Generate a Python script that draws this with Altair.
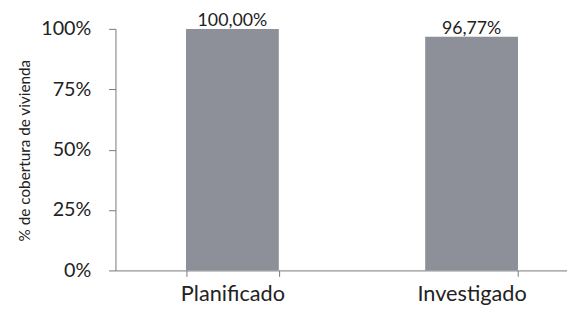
import altair as alt
import pandas as pd

categories = ["Planificado", "Investigado"]
values = [1.0, 0.9677]
labels = ["100,00%", "96,77%"]

df = pd.DataFrame({"cat": categories, "val": values, "lab": labels})

FONT = "Lato"

x = alt.X("cat:N", sort=categories, title=None,
          scale=alt.Scale(paddingInner=0.612, paddingOuter=0.25, align=0.59),
          axis=alt.Axis(labelAngle=0, labelFontSize=22, labelColor="#222",
                        labelFont=FONT, labelPadding=8, tickSize=6,
                        tickBand="extent", domainColor="#777", tickColor="#777"))
y = alt.Y("val:Q", title="% de cobertura de vivienda",
          scale=alt.Scale(domain=[0, 1]),
          axis=alt.Axis(values=[0, 0.25, 0.5, 0.75, 1.0], format=".0%",
                        grid=False, labelFontSize=20, labelColor="#222",
                        labelFont=FONT, labelPadding=18, tickSize=7,
                        domainColor="#777", tickColor="#777",
                        titleFontSize=15.5, titleFont=FONT, titleColor="#222",
                        titleFontWeight="normal", titleX=-92, titleY=123,
                        titleAngle=270, titleAlign="center", titleBaseline="middle"))

bars = alt.Chart(df).mark_bar(color="#8e9099").encode(x=x, y=y)
text = alt.Chart(df).mark_text(baseline="alphabetic", dy=-3, fontSize=18,
                               font=FONT, color="#222").encode(
    x=alt.X("cat:N", sort=categories), y="val:Q", text="lab:N")

chart = (bars + text).properties(
    width=458, height=245,
    autosize=alt.AutoSizeParams(type="none"),
    padding={"left": 109, "top": 19, "right": 0, "bottom": 40},
).configure_view(stroke=None)

chart.save("out.html", embed_options={"renderer": "svg", "actions": False})
